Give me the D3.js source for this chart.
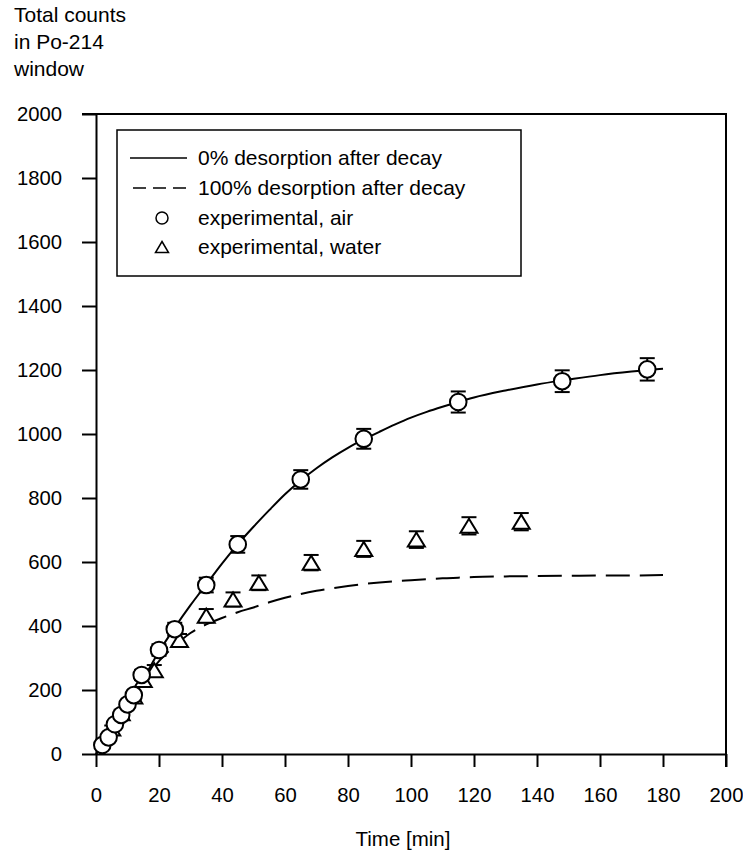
<!DOCTYPE html>
<html>
<head>
<meta charset="utf-8">
<script src="https://cdn.jsdelivr.net/npm/d3@7"></script>
<style>
    body { margin: 0; background: white; }
    text { font-family: "Liberation Sans", Arial, sans-serif; fill: #000; }
</style>
</head>
<body>
<div id="chart"></div>
<script>
// data
const airTime = [2, 4, 6, 8, 10, 12, 14.5, 20, 25, 35, 45, 65, 85, 115, 148, 175];
const airCounts = [28, 52, 93, 122, 155, 184, 247, 325, 390, 528, 655, 858, 985, 1100, 1165, 1202];
const airError = [5, 7, 10, 11, 12, 14, 16, 18, 20, 23, 26, 29, 31, 33, 34, 35];

const waterTime = [5, 8, 12, 15, 18.5, 26.5, 35, 43.5, 51.7, 68.3, 85, 101.7, 118.4, 135];
const waterCounts = [80, 127, 180, 231, 262, 356, 432, 483, 535, 598, 641, 670, 713, 726];
const waterError = [9, 11, 13, 15, 16, 19, 21, 22, 23, 24, 25, 26, 27, 27];

const modelTime = [0, 5, 10, 15, 20, 25, 30, 35, 40, 45, 50, 55, 60, 65, 70, 75, 80, 85, 90, 95, 100, 105, 110, 115, 120, 130, 140, 150, 160, 170, 180];
const noDesorption = [0, 75, 155, 235, 320, 395, 465, 530, 595, 655, 710, 762, 812, 855, 893, 927, 957, 983, 1007, 1030, 1051, 1069, 1085, 1100, 1114, 1136, 1155, 1170, 1184, 1195, 1204];
const fullDesorption = [0, 75, 150, 225, 290, 338, 378, 405, 425, 443, 458, 474, 488, 500, 510, 518, 525, 531, 536, 540, 543, 546, 549, 551, 553, 555, 556, 557, 558, 558, 559];

const xTicks = [0, 20, 40, 60, 80, 100, 120, 140, 160, 180, 200];
const yTicks = [0, 200, 400, 600, 800, 1000, 1200, 1400, 1600, 1800, 2000];

const legendItems = ["0% desorption after decay", "100% desorption after decay", "experimental, air", "experimental, water"];

// margin, width, height
const margin = {top: 114, right: 17, bottom: 98, left: 96};
const width = 743 - margin.left - margin.right;
const height = 852 - margin.top - margin.bottom;

const svg = d3.select("#chart").append("svg")
    .attr("width", 743)
    .attr("height", 852);

const g = svg.append("g")
    .attr("transform", `translate(${margin.left}, ${margin.top})`);

// scales
const x = d3.scaleLinear().domain([0, 200]).range([0, width]);
const y = d3.scaleLinear().domain([0, 2000]).range([height, 0]);

// axes with outward ticks
const xAxis = g.append("g")
    .attr("transform", `translate(0, ${height})`)
    .call(d3.axisBottom(x).tickValues(xTicks).tickFormat(d3.format("d"))
        .tickSize(13).tickPadding(21).tickSizeOuter(0));
const yAxis = g.append("g")
    .call(d3.axisLeft(y).tickValues(yTicks).tickFormat(d3.format("d"))
        .tickSize(14).tickPadding(20).tickSizeOuter(0));

[xAxis, yAxis].forEach(a => {
    a.selectAll("path, line").attr("stroke", "#000").attr("stroke-width", 2);
    a.selectAll("text").style("font-size", "20.3px").attr("fill", "#000");
});

// frame top and right, with outward ticks at the ends
g.append("path")
    .attr("d", `M-14,0H${width}V${height + 13}`)
    .attr("fill", "none")
    .attr("stroke", "#000")
    .attr("stroke-width", 2);

// model curves
const line = d3.line()
    .x(d => x(d[0]))
    .y(d => y(d[1]))
    .curve(d3.curveMonotoneX);

g.append("path")
    .datum(d3.zip(modelTime, fullDesorption))
    .attr("d", line)
    .attr("fill", "none")
    .attr("stroke", "#000")
    .attr("stroke-width", 2)
    .attr("stroke-dasharray", "24,10");

g.append("path")
    .datum(d3.zip(modelTime, noDesorption))
    .attr("d", line)
    .attr("fill", "none")
    .attr("stroke", "#000")
    .attr("stroke-width", 2);

// error bars
function drawErrors(times, counts, errors) {
    const eb = g.append("g")
        .selectAll("g")
        .data(d3.zip(times, counts, errors))
        .enter().append("g")
        .attr("stroke", "#000")
        .attr("stroke-width", 2);
    eb.append("line")
        .attr("x1", d => x(d[0])).attr("x2", d => x(d[0]))
        .attr("y1", d => y(d[1] - d[2])).attr("y2", d => y(d[1] + d[2]));
    eb.append("line")
        .attr("x1", d => x(d[0]) - 7.5).attr("x2", d => x(d[0]) + 7.5)
        .attr("y1", d => y(d[1] - d[2])).attr("y2", d => y(d[1] - d[2]));
    eb.append("line")
        .attr("x1", d => x(d[0]) - 7.5).attr("x2", d => x(d[0]) + 7.5)
        .attr("y1", d => y(d[1] + d[2])).attr("y2", d => y(d[1] + d[2]));
}
drawErrors(airTime, airCounts, airError);
drawErrors(waterTime, waterCounts, waterError);

// triangle path centred on its bounding box
const triangle = (w, h) => `M0,${-h / 2}L${w / 2},${h / 2}L${-w / 2},${h / 2}Z`;

g.append("g")
    .selectAll("path")
    .data(d3.zip(waterTime, waterCounts))
    .enter().append("path")
    .attr("d", triangle(17, 14))
    .attr("transform", d => `translate(${x(d[0])}, ${y(d[1])})`)
    .attr("fill", "white")
    .attr("stroke", "#000")
    .attr("stroke-width", 2);

g.append("g")
    .selectAll("circle")
    .data(d3.zip(airTime, airCounts))
    .enter().append("circle")
    .attr("cx", d => x(d[0]))
    .attr("cy", d => y(d[1]))
    .attr("r", 8.3)
    .attr("fill", "white")
    .attr("stroke", "#000")
    .attr("stroke-width", 2);

// legend
const legend = svg.append("g").attr("class", "legend");
legend.append("rect")
    .attr("x", 117).attr("y", 130)
    .attr("width", 404).attr("height", 146)
    .attr("fill", "white")
    .attr("stroke", "#000")
    .attr("stroke-width", 1.5);

const rowY = [158, 188, 218, 247];
legend.append("line")
    .attr("x1", 130).attr("x2", 187).attr("y1", rowY[0]).attr("y2", rowY[0])
    .attr("stroke", "#000").attr("stroke-width", 1.5);
legend.append("line")
    .attr("x1", 133).attr("x2", 187).attr("y1", rowY[1]).attr("y2", rowY[1])
    .attr("stroke", "#000").attr("stroke-width", 1.5)
    .attr("stroke-dasharray", "13,7");
legend.append("circle")
    .attr("cx", 162).attr("cy", rowY[2]).attr("r", 6)
    .attr("fill", "white").attr("stroke", "#000").attr("stroke-width", 1.5);
legend.append("path")
    .attr("d", triangle(13, 11))
    .attr("transform", `translate(162, ${rowY[3]})`)
    .attr("fill", "white").attr("stroke", "#000").attr("stroke-width", 1.5);

legend.selectAll("text.legend-text")
    .data(legendItems)
    .enter().append("text")
    .attr("class", "legend-text")
    .attr("x", 198)
    .attr("y", (d, i) => rowY[i])
    .attr("dy", "0.35em")
    .style("font-size", "21px")
    .text(d => d);

// y axis title, three lines in the top left corner
svg.append("text")
    .attr("x", 14)
    .attr("y", 22)
    .style("font-size", "21px")
    .selectAll("tspan")
    .data(["Total counts", "in Po-214", "window"])
    .enter().append("tspan")
    .attr("x", 14)
    .attr("dy", (d, i) => i === 0 ? 0 : 27)
    .text(d => d);

// x axis title
svg.append("text")
    .attr("x", 403)
    .attr("y", 846)
    .attr("text-anchor", "middle")
    .style("font-size", "20.5px")
    .text("Time [min]");
</script>
</body>
</html>
